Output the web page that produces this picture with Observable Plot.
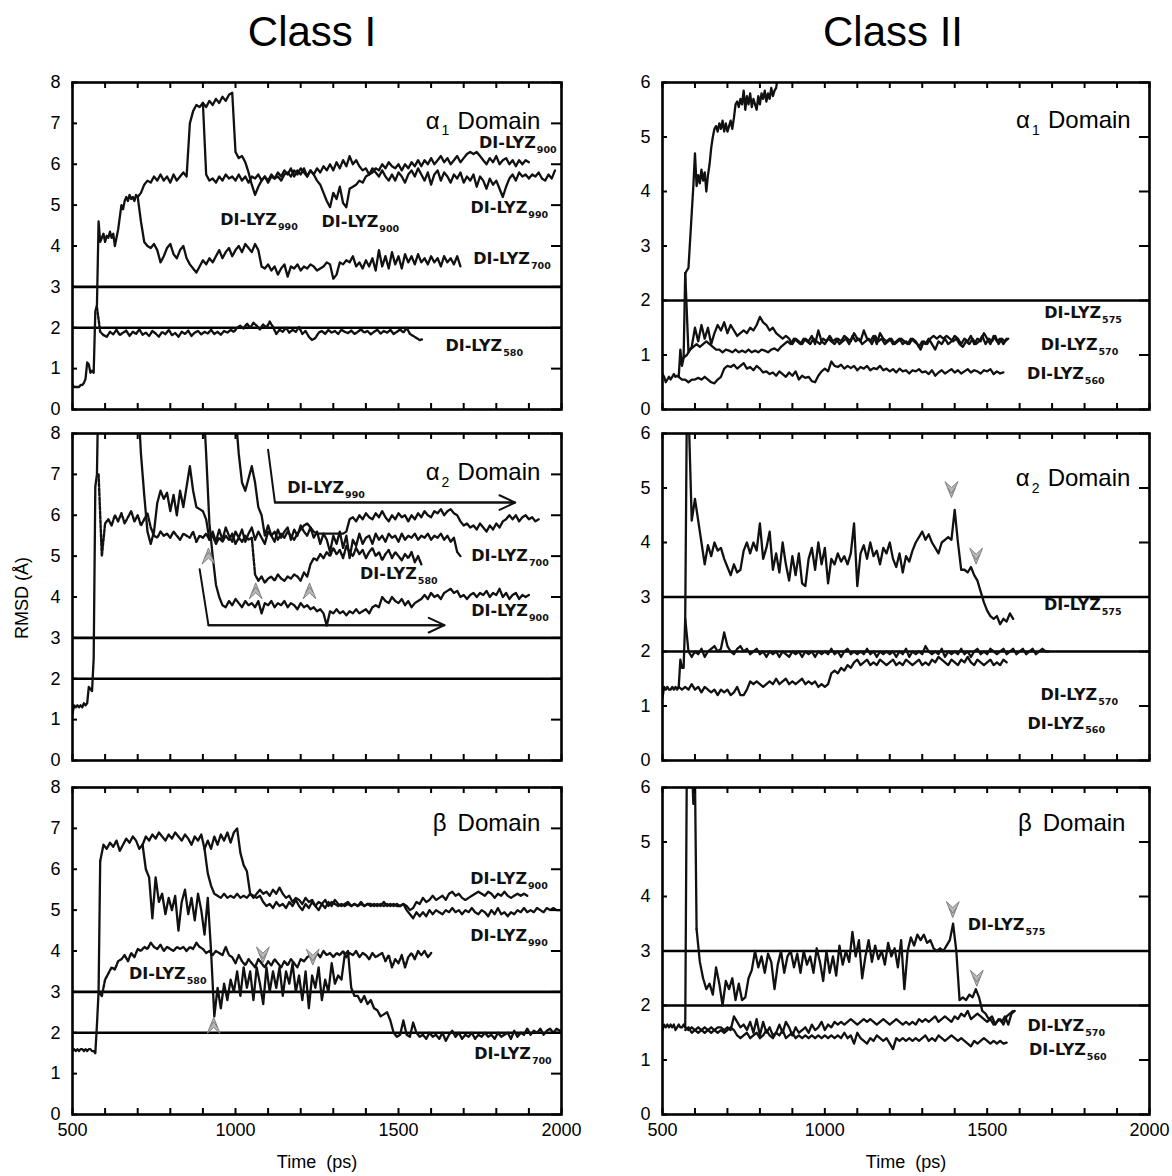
<!DOCTYPE html>
<html><head><meta charset="utf-8">
<script src="https://cdn.jsdelivr.net/npm/d3@7"></script>
<script src="https://cdn.jsdelivr.net/npm/@observablehq/plot@0.6"></script>
<style>
body{margin:0;background:#fff;}
#wrap{position:relative;width:1172px;height:1176px;overflow:hidden;background:#fff;font-family:'Liberation Sans',Arial,Helvetica,sans-serif;color:#000;}
#wrap svg{position:absolute;overflow:visible;}
.title{position:absolute;font-size:42px;line-height:42px;text-align:center;width:300px;top:11px;}
.ylab{position:absolute;font-size:18px;line-height:20px;width:200px;text-align:center;transform:rotate(-90deg);}
</style></head><body><div id="wrap"></div>
<script>
// ---------- axes ----------
const X_MINOR = [500,600,700,800,900,1000,1100,1200,1300,1400,1500,1600,1700,1800,1900,2000];
const X_LABELS = [500,1000,1500,2000];
const Y_TICKS_I = [0,1,2,3,4,5,6,7,8];
const Y_TICKS_II = [0,1,2,3,4,5,6];
const COLUMN_TITLES = ["Class I","Class II"];

// ---------- Class I, alpha1 ----------
const c1a_start = [0.6,0.55,0.55,0.55,0.55,0.6,0.6,0.65,0.75,1.15,1.1,0.9,0.95,0.9,2.4,2.55];
const c1a_580 = [2.5,1.9,1.82,1.78,1.9,1.84,1.95,1.82,1.88,1.93,1.8,1.9,1.85,1.96,1.83,1.88,1.8,1.92,1.86,1.78,1.9,1.84,1.95,1.82,1.87,1.78,1.9,1.85,1.93,1.8,1.88,1.92,1.84,1.9,1.86,1.95,1.85,1.9,1.83,1.92,1.88,1.95,1.9,2.0,2.05,1.98,2.1,2.0,2.12,2.05,1.96,2.08,2.0,2.15,2.02,1.85,1.95,1.9,2.0,1.88,1.95,1.9,2.02,1.85,1.92,1.78,1.7,1.75,1.88,1.92,1.85,1.95,1.88,1.92,1.85,1.95,1.9,1.87,1.93,1.85,1.9,1.96,1.88,1.92,1.84,1.9,1.95,1.86,1.92,1.88,1.95,1.85,1.9,1.96,1.88,2.0,1.85,1.8,1.75,1.7,1.72];
const c1a_hi = [2.55,4.6,4.1,4.2,4.3,4.1,4.25,4.2,4.35,4.2,4.3,4.0,4.2,4.4,4.7,5.0,4.9,5.1,5.2,5.1,5.25,5.15,5.2,5.1,5.25,5.2];
const c1a_700 = [5.2,4.6,4.1,4.0,3.95,4.05,3.9,3.6,3.75,3.95,4.05,3.8,3.7,3.9,4.0,3.7,3.55,3.45,3.35,3.5,3.65,3.55,3.7,3.6,3.75,3.9,3.7,3.85,3.95,3.75,3.9,4.0,3.85,4.05,3.95,3.85,4.05,3.9,3.5,3.45,3.55,3.4,3.5,3.3,3.45,3.55,3.25,3.5,3.45,3.55,3.4,3.5,3.45,3.55,3.5,3.4,3.45,3.5,3.6,3.55,3.2,3.3,3.6,3.55,3.65,3.6,3.75,3.5,3.6,3.45,3.65,3.5,3.7,3.4,3.9,3.5,3.75,3.45,3.85,3.55,3.75,3.45,3.8,3.6,3.75,3.55,3.8,3.6,3.7,3.55,3.75,3.6,3.7,3.5,3.75,3.6,3.7,3.55,3.75,3.5];
const c1a_mid = [5.2,5.3,5.5,5.6,5.55,5.7,5.6,5.75,5.6,5.7,5.55,5.75,5.6,5.7,5.8,5.7,7.0,7.3,7.45,7.4,7.5];
const c1a_900 = [7.5,5.75,5.6,5.65,5.55,5.7,5.6,5.75,5.65,5.7,5.6,5.75,5.6,5.7,5.55,5.7,5.65,5.75,5.6,5.7,5.55,5.7,5.65,5.8,5.7,5.85,5.75,5.9,5.7,5.85,5.75,5.9,5.7,5.85,5.75,5.6,5.5,5.3,5.1,4.95,5.3,5.15,5.45,5.05,4.95,5.4,5.45,5.5,5.6,5.55,5.7,5.75,5.8,5.9,5.85,6.0,5.9,6.05,5.95,5.9,6.0,5.85,6.0,5.9,6.05,5.95,6.1,5.95,6.1,6.0,6.15,6.0,6.1,6.2,6.05,6.15,6.0,6.1,6.2,6.05,6.15,6.25,6.3,6.25,6.3,6.2,6.1,6.0,6.15,6.05,6.2,6.0,6.1,6.15,6.0,6.1,5.95,6.1,6.0,6.1,6.05];
const c1a_990 = [7.5,7.4,7.55,7.45,7.6,7.5,7.65,7.55,7.7,7.75,6.3,6.15,6.2,6.05,5.8,5.5,5.25,5.45,5.6,5.7,5.6,5.75,5.65,5.7,5.6,5.75,5.8,5.7,5.85,5.75,5.9,5.8,5.7,5.85,5.75,5.9,5.8,5.95,5.85,6.0,5.85,6.05,5.9,6.1,5.95,6.2,6.0,6.1,5.95,5.85,5.9,5.75,5.9,5.8,5.7,5.85,5.7,5.6,5.75,5.6,5.8,5.7,5.55,5.75,5.85,5.7,5.9,5.75,5.6,5.8,5.5,5.75,5.85,5.6,5.8,5.7,5.55,5.75,5.65,5.8,5.55,5.7,5.6,5.75,5.45,5.7,5.6,5.4,5.65,5.5,5.6,5.4,5.2,5.45,5.65,5.75,5.6,5.8,5.7,5.75,5.65,5.75,5.7,5.8,5.65,5.6,5.75,5.65,5.85];

// ---------- Class I, alpha2 ----------
const c1b_start = [1.15,1.35,1.3,1.35,1.3,1.35,1.3,1.4,1.35,1.4,1.8,1.75,1.7,2.5,6.7,7.0,9.5];
const c1b_580 = [7.0,5.0,5.8,5.9,5.75,6.0,5.85,6.05,5.8,5.95,6.1,5.85,6.0,5.75,5.9,6.05,5.7,5.5,5.45,5.6,5.5,5.55,5.45,5.6,5.5,5.4,5.55,5.5,5.45,5.6,5.35,5.5,5.45,5.55,5.4,5.5,5.3,5.45,5.35,5.5,5.4,5.55,5.3,5.45,5.35,5.5,5.4,5.45,4.55,4.4,4.5,4.35,4.45,4.5,4.4,4.55,4.45,4.4,4.5,4.45,4.55,4.5,4.4,4.6,4.5,4.8,4.95,4.9,5.05,4.95,5.1,5.0,5.2,5.05,5.15,4.95,5.25,5.1,5.0,5.2,5.05,5.15,4.95,5.1,5.2,5.0,5.1,4.9,5.05,5.15,4.95,5.1,5.0,4.9,5.05,4.95,5.1,4.85,5.0,4.8];
const c1b_700 = [9.0,7.5,6.5,5.6,5.3,5.6,6.3,6.6,6.4,6.55,6.1,6.5,6.0,6.6,6.2,6.7,7.2,6.6,6.2,6.15,6.1,5.9,5.4,5.6,5.35,5.65,5.4,5.7,5.5,5.35,5.6,5.45,5.65,5.35,5.55,5.7,5.4,5.6,5.45,5.3,5.6,5.5,5.35,5.65,5.45,5.6,5.7,5.4,5.65,5.5,5.75,5.6,5.5,5.7,5.45,5.6,5.3,5.55,5.4,5.1,5.5,5.3,5.6,5.2,5.5,4.95,5.4,5.25,5.55,5.3,5.45,5.5,5.3,5.55,5.4,5.5,5.35,5.55,5.45,5.5,5.35,5.55,5.4,5.5,5.45,5.55,5.4,5.5,5.45,5.55,5.4,5.5,5.45,5.55,5.4,5.5,5.35,5.45,5.1,5.0];
const c1b_900 = [9.0,7.5,5.8,5.0,4.3,4.0,3.8,3.75,3.9,3.8,3.95,3.85,3.75,3.9,3.8,3.85,3.75,3.9,3.6,3.85,3.8,3.9,3.75,3.85,3.8,3.9,3.75,3.85,3.8,3.7,3.85,3.75,3.8,3.7,3.75,3.65,3.7,3.6,3.3,3.65,3.6,3.7,3.6,3.65,3.55,3.65,3.6,3.7,3.6,3.65,3.7,3.6,3.75,3.8,3.75,4.0,3.9,3.85,4.0,3.9,3.85,3.95,3.8,3.9,3.75,3.85,3.9,3.95,4.05,3.95,4.1,4.0,4.05,3.95,4.1,4.15,4.2,4.1,4.15,4.0,4.05,3.95,4.05,4.1,4.0,4.1,4.05,4.15,4.0,4.1,4.05,4.2,4.0,4.1,3.95,4.05,4.1,3.95,4.05,4.0,4.05];
const c1b_990 = [9.0,8.5,7.5,6.8,6.6,6.9,7.2,6.8,6.2,6.0,5.5,5.75,5.5,5.6,5.4,5.55,5.45,5.6,5.5,5.4,5.55,5.65,5.75,5.8,5.7,5.6,5.55,5.55,5.55,5.55,5.55,5.55,5.55,5.55,5.55,5.6,5.9,5.95,5.85,6.0,5.9,6.05,5.95,5.9,6.05,5.95,6.1,5.95,5.85,6.0,5.9,6.05,5.95,6.0,5.85,6.0,5.9,6.05,5.95,6.1,6.0,5.95,6.1,6.05,6.15,6.0,6.1,6.15,6.05,6.0,5.85,5.75,5.8,5.7,5.75,5.65,5.8,5.7,5.6,5.75,5.65,5.8,5.7,5.85,5.9,6.0,5.9,6.0,5.85,5.95,6.0,5.9,5.95,5.85,5.9];
const c1b_arrow990 = [[1100,7.6],[1121,6.31],[1858,6.31]];
const c1b_arrow900 = [[890,4.68],[917,3.31],[1641,3.31]];

// ---------- Class I, beta ----------
const c1c_start = [1.55,1.6,1.55,1.6,1.55,1.6,1.6,1.55,1.6,1.55,1.6,1.6,1.55,1.55,1.5,2.2,3.0,6.2];
const c1c_580 = [3.0,2.9,3.3,3.45,3.6,3.55,3.75,3.8,3.9,3.75,3.95,3.85,4.05,4.0,4.1,4.05,4.2,4.1,4.05,4.15,4.0,4.1,4.05,4.0,4.1,4.05,4.1,4.0,4.1,4.05,4.2,4.1,4.05,3.95,4.0,3.9,4.0,3.95,3.9,4.1,3.9,3.85,3.7,3.9,3.75,3.65,3.8,3.7,3.6,3.8,3.7,3.6,3.75,3.65,3.8,3.7,3.6,3.75,3.65,3.8,3.7,3.6,3.8,3.75,3.85,3.9,3.8,3.95,3.85,4.0,3.9,3.95,3.85,3.95,3.9,4.0,3.85,3.95,3.9,4.0,3.85,3.95,3.9,3.8,3.95,3.85,3.9,3.95,3.75,3.9,3.6,3.8,3.7,3.9,3.6,3.85,3.95,3.8,4.0,3.9,4.0,3.85,3.95];
const c1c_hi = [6.2,6.6,6.5,6.65,6.55,6.7,6.45,6.6,6.75,6.65,6.8,6.7,6.5,6.6];
const c1c_700 = [6.6,6.0,5.8,4.8,5.8,5.2,5.4,4.9,5.3,5.0,5.35,4.5,5.2,5.5,4.9,5.3,4.75,5.4,5.0,4.4,5.3,4.0,2.4,3.1,2.6,3.2,2.8,3.3,3.0,3.5,2.9,3.6,3.1,3.5,2.8,3.6,3.2,2.7,3.6,3.0,3.5,3.1,3.6,2.9,3.5,3.2,3.7,3.0,3.4,2.8,3.5,2.6,3.4,3.1,3.6,2.8,3.3,3.0,3.7,3.2,3.4,3.3,3.9,4.0,3.1,2.9,2.9,2.75,2.9,2.7,2.8,2.6,2.55,2.4,2.45,2.5,2.3,2.0,1.9,1.95,2.3,1.95,1.9,2.25,2.0,1.9,1.95,1.85,2.0,1.9,1.95,1.85,2.0,1.8,1.95,2.05,1.9,2.0,1.85,1.95,1.9,2.0,1.85,1.95,1.9,2.0,1.9,1.95,1.85,2.0,1.9,1.95,2.0,1.85,2.05,1.9,2.0,1.95,2.1,1.95,2.05,2.0,2.1,1.95,2.05,2.1,2.0,2.1,2.05];
const c1c_mid = [6.6,6.8,6.7,6.85,6.75,6.9,6.8,6.7,6.85,6.75,6.9,6.8,6.7,6.85,6.75,6.6,6.8,6.7,6.85,6.5];
const c1c_900 = [6.5,5.9,5.6,5.4,5.35,5.3,5.4,5.3,5.35,5.3,5.4,5.3,5.35,5.3,5.4,5.3,5.4,5.5,5.4,5.45,5.35,5.5,5.4,5.55,5.4,5.3,5.35,5.2,5.3,5.25,5.15,5.3,5.2,5.25,5.1,5.2,5.15,5.25,5.1,5.2,5.15,5.1,5.15,5.1,5.15,5.1,5.15,5.1,5.15,5.1,5.15,5.1,5.15,5.1,5.15,5.1,5.15,5.1,5.15,5.1,5.1,5.15,5.1,5.0,5.05,5.2,5.15,5.3,5.2,5.25,5.35,5.25,5.3,5.35,5.25,5.4,5.45,5.35,5.4,5.3,5.25,5.3,5.35,5.4,5.45,5.4,5.35,5.45,5.4,5.3,5.4,5.35,5.45,5.35,5.3,5.35,5.4,5.35,5.4,5.35];
const c1c_990 = [6.5,6.7,6.5,6.8,6.6,6.85,6.7,6.9,6.65,6.9,7.0,6.4,6.1,5.95,5.4,5.35,5.3,5.35,5.2,5.1,5.15,5.05,5.2,5.1,5.15,5.05,5.2,5.1,5.25,5.1,5.0,5.15,5.05,5.2,5.1,5.0,5.15,5.05,5.2,5.1,5.25,5.15,5.1,5.15,5.2,5.1,5.15,5.1,5.2,5.1,5.15,5.15,5.1,5.15,5.1,5.2,5.1,5.15,5.1,5.15,5.1,5.15,5.0,4.9,4.8,4.95,4.85,4.95,4.85,5.0,4.9,5.0,4.95,4.9,5.0,4.95,5.05,4.95,5.0,4.9,5.0,4.95,5.05,4.95,4.9,5.0,4.95,4.85,5.0,4.9,5.05,4.9,4.95,4.85,4.95,4.9,5.0,4.95,5.05,4.95,5.0,4.95,5.05,5.0,4.95,5.05,5.0,5.05,5.0,5.0];

// ---------- Class II, alpha1 ----------
const c2a_start = [0.65,0.6,0.5,0.55,0.6,0.55,0.6,0.65,0.6,0.62,0.6];
const c2a_hi = [0.6,1.1,0.8,0.95,2.5];
const c2a_up = [2.5,2.55,2.6,3.1,3.6,4.1,4.7,4.1,4.3,4.15,4.4,4.2,4.35,4.0,4.3,4.5,4.8,5.0,5.15,5.2,5.1,5.25,5.15,5.3,5.1,5.25,5.1,5.2,5.3,5.15,5.35,5.6,5.65,5.55,5.7,5.6,5.85,5.5,5.75,5.6,5.8,5.55,5.7,5.6,5.5,5.75,5.6,5.8,5.7,5.85,5.65,5.8,5.7,5.9,5.75,5.85,5.9,6.1,6.3];
const c2a_570 = [2.5,1.05,1.15,1.5,1.25,1.55,1.3,1.5,1.2,1.4,1.55,1.45,1.6,1.4,1.55,1.45,1.35,1.4,1.45,1.4,1.5,1.45,1.55,1.7,1.6,1.55,1.45,1.5,1.4,1.35,1.3,1.35,1.3,1.2,1.3,1.25,1.2,1.3,1.25,1.35,1.2,1.45,1.25,1.2,1.3,1.25,1.2,1.3,1.25,1.35,1.3,1.25,1.4,1.3,1.25,1.45,1.3,1.25,1.35,1.2,1.4,1.3,1.25,1.3,1.2,1.25,1.3,1.2,1.25,1.2,1.3,1.25,1.15,1.25,1.2,1.3,1.2,1.1,1.25,1.2,1.3,1.2,1.25,1.35,1.3,1.2,1.3,1.25,1.35,1.2,1.3,1.25,1.4,1.3,1.2,1.35,1.25,1.3,1.2,1.3];
const c2a_b = [0.95,1.0,1.1,1.15,1.2,1.15,1.2,1.25,1.2,1.15,1.1,1.1,1.05,1.1,1.08,1.05,1.1,1.05,1.08,1.05,1.1,1.05,1.08,1.05,1.1,1.08,1.05,1.1,1.12,1.08,1.15,1.2,1.25,1.2,1.3,1.25,1.2,1.3,1.25,1.2,1.3,1.25,1.2,1.3,1.25,1.35,1.25,1.3,1.2,1.25,1.3,1.2,1.35,1.25,1.3,1.2,1.25,1.3,1.2,1.35,1.25,1.3,1.2,1.25,1.3,1.2,1.25,1.3,1.25,1.2,1.3,1.25,1.2,1.1,1.25,1.2,1.3,1.35,1.3,1.35,1.3,1.35,1.3,1.25,1.3,1.2,1.15,1.25,1.2,1.3,1.2,1.25,1.35,1.2,1.3,1.25,1.35,1.2,1.3,1.25,1.3];
const c2a_560 = [0.6,0.55,0.55,0.5,0.55,0.55,0.58,0.55,0.6,0.55,0.5,0.48,0.55,0.6,0.75,0.8,0.78,0.82,0.75,0.8,0.85,0.75,0.78,0.72,0.8,0.75,0.68,0.7,0.65,0.68,0.62,0.7,0.65,0.6,0.68,0.62,0.7,0.55,0.62,0.58,0.6,0.52,0.5,0.62,0.7,0.75,0.7,0.88,0.8,0.78,0.82,0.75,0.8,0.76,0.8,0.72,0.78,0.75,0.8,0.72,0.76,0.74,0.8,0.72,0.75,0.7,0.74,0.68,0.75,0.7,0.72,0.66,0.72,0.7,0.74,0.68,0.7,0.65,0.72,0.62,0.68,0.72,0.66,0.7,0.74,0.68,0.72,0.66,0.7,0.74,0.68,0.72,0.7,0.66,0.72,0.7,0.74,0.65,0.7,0.66,0.68];

// ---------- Class II, alpha2 ----------
const c2b_start = [1.15,1.35,1.3,1.35,1.3,1.3,1.35,1.3,1.35,1.3,1.35];
const c2b_hi = [1.35,1.85,1.7,1.7,2.6,6.5];
const c2b_575 = [6.5,4.4,4.8,4.4,4.0,3.6,3.95,3.75,4.0,3.85,3.9,3.7,3.55,3.4,3.6,3.45,3.5,3.85,4.0,3.8,4.0,3.85,4.35,3.7,3.9,4.2,3.5,3.8,3.45,4.0,3.6,3.3,3.75,3.4,3.8,3.25,3.2,3.7,3.9,3.5,4.0,3.6,3.9,3.25,3.7,3.6,3.8,3.65,3.75,3.6,3.8,4.35,3.2,3.8,3.95,3.7,4.0,3.75,3.85,3.6,3.9,3.8,4.0,3.7,3.55,3.8,3.45,3.75,3.65,3.85,4.0,4.1,4.2,4.05,4.15,4.0,3.9,3.8,4.0,4.05,4.1,4.05,4.6,4.0,3.5,3.5,3.45,3.55,3.4,3.3,3.1,2.9,2.75,2.65,2.6,2.65,2.5,2.6,2.55,2.7,2.6];
const c2b_570 = [2.6,2.0,1.9,2.0,1.95,2.05,1.9,2.0,2.05,2.1,2.0,2.05,2.35,2.1,2.0,1.95,2.05,2.1,2.0,2.05,1.95,2.0,2.05,1.95,2.0,1.9,2.0,1.95,2.0,1.9,2.0,1.95,1.9,2.0,1.95,2.0,1.9,2.0,1.95,2.0,1.9,2.0,1.95,2.0,1.95,2.05,1.95,2.0,1.9,2.0,2.05,1.95,2.0,1.95,2.0,1.95,2.05,1.95,2.0,1.9,2.0,1.95,2.0,1.95,2.0,1.9,2.0,1.95,2.05,1.9,2.0,1.95,2.0,1.95,2.1,2.0,1.95,2.0,1.95,2.05,1.9,2.0,1.95,2.0,1.95,2.05,1.95,2.0,1.9,2.0,2.05,1.95,2.0,1.95,2.05,2.0,1.95,2.0,2.05,1.95,2.0,2.05,1.95,2.0,2.05,1.95,2.0,2.05,1.95,2.0,2.05,2.0,2.0];
const c2b_560 = [1.35,1.3,1.35,1.3,1.4,1.3,1.35,1.25,1.35,1.3,1.25,1.3,1.2,1.3,1.25,1.3,1.2,1.25,1.35,1.2,1.2,1.3,1.45,1.4,1.45,1.4,1.35,1.4,1.45,1.4,1.5,1.4,1.45,1.5,1.4,1.45,1.4,1.45,1.5,1.4,1.45,1.4,1.45,1.35,1.4,1.35,1.4,1.6,1.65,1.6,1.7,1.65,1.75,1.7,1.8,1.85,1.75,1.8,1.85,1.75,1.8,1.75,1.85,1.8,1.75,1.8,1.85,1.75,1.8,1.75,1.85,1.8,1.75,1.8,1.85,1.75,1.8,1.75,1.85,1.8,1.9,1.85,1.8,1.75,1.85,1.8,1.75,1.85,1.8,1.9,1.8,1.75,1.85,1.8,1.75,1.8,1.85,1.75,1.8,1.75,1.85,1.8];

// ---------- Class II, beta ----------
const c2c_start = [1.55,1.65,1.6,1.65,1.6,1.65,1.6,1.65,1.55,1.6,1.65,1.6,1.6,1.65,1.6];
const c2c_spike = [1.6,6.5,6.5,6.4,6.5,5.7,6.2,3.4];
const c2c_575 = [3.4,2.8,2.5,2.3,2.4,2.2,2.7,2.4,2.0,2.45,2.3,2.5,2.1,2.4,2.1,2.15,2.5,2.65,3.0,2.7,2.9,2.6,2.95,2.8,2.3,2.75,3.0,2.6,2.9,3.0,2.7,2.95,2.6,3.0,2.75,2.9,2.6,3.05,2.8,2.45,3.0,2.6,2.9,2.55,3.1,2.75,3.0,2.8,3.35,2.9,3.2,2.5,2.9,3.2,2.8,3.1,2.85,3.0,2.75,3.15,2.9,3.05,2.7,3.2,2.3,3.0,3.25,3.1,3.3,3.2,3.3,3.15,3.2,3.05,3.0,3.05,3.0,3.1,3.2,3.5,3.0,2.1,2.15,2.1,2.2,2.15,2.3,2.15,1.9,1.85,1.75,1.8,1.65,1.75,1.7,1.8,1.65,1.85,1.9];
const c2c_570 = [1.6,1.55,1.6,1.55,1.6,1.55,1.6,1.55,1.6,1.55,1.6,1.6,1.55,1.6,1.55,1.8,1.7,1.6,1.65,1.55,1.7,1.5,1.75,1.45,1.7,1.5,1.6,1.45,1.5,1.65,1.5,1.7,1.6,1.45,1.6,1.5,1.55,1.6,1.5,1.65,1.55,1.6,1.7,1.55,1.65,1.6,1.7,1.65,1.7,1.65,1.7,1.75,1.7,1.65,1.7,1.75,1.7,1.75,1.7,1.65,1.7,1.75,1.7,1.65,1.7,1.75,1.7,1.65,1.7,1.65,1.7,1.65,1.75,1.7,1.75,1.7,1.75,1.8,1.7,1.75,1.8,1.75,1.7,1.8,1.75,1.85,1.8,1.9,1.75,1.8,1.85,1.8,1.75,1.7,1.75,1.65,1.7,1.75,1.65,1.8,1.85,1.9];
const c2c_560 = [1.55,1.6,1.5,1.55,1.5,1.55,1.5,1.55,1.5,1.55,1.5,1.55,1.5,1.55,1.6,1.55,1.45,1.4,1.45,1.5,1.4,1.45,1.5,1.4,1.45,1.55,1.45,1.4,1.5,1.45,1.55,1.4,1.45,1.5,1.4,1.45,1.4,1.45,1.4,1.45,1.4,1.45,1.4,1.45,1.4,1.45,1.4,1.45,1.4,1.5,1.4,1.45,1.3,1.5,1.4,1.35,1.3,1.4,1.35,1.45,1.4,1.35,1.4,1.3,1.2,1.4,1.35,1.4,1.35,1.4,1.35,1.4,1.35,1.4,1.45,1.35,1.4,1.35,1.45,1.4,1.35,1.4,1.45,1.4,1.35,1.4,1.35,1.3,1.25,1.35,1.3,1.35,1.4,1.35,1.3,1.35,1.3,1.35,1.3,1.32];

// ---------- helpers ----------
function seg(t0, dt, vals){ return vals.map((v,i)=>({t:t0+i*dt, v})); }
const cv = document.createElement("canvas").getContext("2d");
function textW(s, font){ cv.font = font; return cv.measureText(s).width; }
const LYZ_FONT = "DejaVu Sans";
const wLYZ = textW("DI-LYZ", `bold 16px '${LYZ_FONT}'`);
const wDomain = textW("Domain", "24px 'Liberation Sans'");

const chevUp = {draw(c, size){ const r = Math.sqrt(size/Math.PI); c.moveTo(-r*0.8, r); c.lineTo(0,-r); c.lineTo(r*0.8, r); c.lineTo(0, r*0.25); c.closePath(); c.moveTo(-r*0.45, r*0.2); c.lineTo(0,-r*0.45); c.lineTo(r*0.45, r*0.2);}};
const chevDown = {draw(c, size){ const r = Math.sqrt(size/Math.PI); c.moveTo(-r*0.8, -r); c.lineTo(0,r); c.lineTo(r*0.8, -r); c.lineTo(0, -r*0.25); c.closePath(); c.moveTo(-r*0.45, -r*0.2); c.lineTo(0,r*0.45); c.lineTo(r*0.45, -r*0.2);}};

const FH = 327;
function makePanel(p){
  const mTop = 12, mBottom = p.bottom ? 62 : 12;
  const W = p.width - p.mL - p.mR;
  const marks = [];
  marks.push(Plot.ruleY(p.refs, {stroke:"#000", strokeWidth:2.6}));
  for (const s of p.series){
    marks.push(Plot.line(seg(s.t0, s.dt, s.vals), {x:"t", y:"v", stroke:"#111", strokeWidth: s.dash ? 2.4 : 2.3, strokeDasharray: s.dash ? "3,1.6" : null, strokeLinejoin:"round", clip:true}));
  }
  for (const a of (p.arrows||[])){
    const pts = a.map(([t,v])=>({t,v}));
    marks.push(Plot.line(pts, {x:"t", y:"v", stroke:"#111", strokeWidth:2}));
    const n = a.length;
    marks.push(Plot.arrow([{x1:a[n-2][0], y1:a[n-2][1], x2:a[n-1][0], y2:a[n-1][1]}], {x1:"x1", y1:"y1", x2:"x2", y2:"y2", stroke:"#111", strokeWidth:2, headLength:13, headAngle:50}));
  }
  marks.push(Plot.frame({stroke:"#000", strokeWidth:2.6}));
  marks.push(Plot.tickX(X_MINOR, {x:d=>d, insetTop: FH-6, stroke:"#000", strokeWidth:2}));
  marks.push(Plot.tickX(X_MINOR, {x:d=>d, insetBottom: FH-6, stroke:"#000", strokeWidth:2}));
  marks.push(Plot.tickY(p.yTicks, {y:d=>d, insetRight: W-5, stroke:"#000", strokeWidth:2}));
  marks.push(Plot.tickY(p.yTicks, {y:d=>d, insetLeft: W-10, stroke:"#000", strokeWidth:2}));
  marks.push(Plot.axisY(p.yTicks, {tickSize:0, tickPadding:12, fontSize:18, label:null, tickFormat:d=>String(d)}));
  if (p.bottom){
    marks.push(Plot.axisX(X_LABELS, {tickSize:0, tickPadding:9, fontSize:18, label:null, tickFormat:d=>String(d)}));
    marks.push(Plot.text(["Time\u00a0\u00a0(ps)"], {frameAnchor:"bottom", text:d=>d, dy:53, fontSize:18}));
  }
  // DI-LYZ labels
  marks.push(Plot.text(p.labels, {x:"t", y:"v", text:()=> "DI-LYZ", textAnchor:"start", lineAnchor:"middle", fontWeight:"bold", fontSize:16, fontFamily:LYZ_FONT, fill:"#111"}));
  marks.push(Plot.text(p.labels, {x:"t", y:"v", text:"sub", textAnchor:"start", lineAnchor:"middle", dx: wLYZ+1, dy:7, fontWeight:"bold", fontSize:9.5, fontFamily:LYZ_FONT, fill:"#111"}));
  // Domain label
  const d = p.domain;
  marks.push(Plot.text([d], {x:"t", y:"v", text:()=>"Domain", textAnchor:"end", lineAnchor:"middle", fontSize:24}));
  marks.push(Plot.text([d], {x:"t", y:"v", text:"greek", textAnchor:"end", lineAnchor:"middle", dx: -(wDomain + (d.sub ? 18 : 11)), fontSize:24}));
  if (d.sub) marks.push(Plot.text([d], {x:"t", y:"v", text:"sub", textAnchor:"start", lineAnchor:"middle", dx: -(wDomain + 16), dy:10, fontSize:14}));
  if (p.up) marks.push(Plot.dot(p.up.map(([t,v])=>({t,v})), {x:"t", y:"v", symbol: chevUp, r:8, fill:"#b8b8b8", stroke:"#777", strokeWidth:0.9}));
  if (p.down) marks.push(Plot.dot(p.down.map(([t,v])=>({t,v})), {x:"t", y:"v", symbol: chevDown, r:8, fill:"#b8b8b8", stroke:"#777", strokeWidth:0.9}));

  const svg = Plot.plot({
    width: p.width, height: FH + mTop + mBottom,
    marginLeft: p.mL, marginRight: p.mR, marginTop: mTop, marginBottom: mBottom,
    x: {domain:[500,2000], ...(p.bottom ? {} : {axis:null})},
    y: {domain:[0, p.ymax]},
    style: {fontFamily:"'Liberation Sans', Arial, Helvetica, sans-serif", fontSize:"18px", color:"#000", background:"transparent", overflow:"visible"},
    marks
  });
  svg.style.left = p.left + "px";
  svg.style.top = (p.top - mTop) + "px";
  document.getElementById("wrap").appendChild(svg);
}

const L = {left:0, width:600, mL:72, mR:39, ymax:8, yTicks:Y_TICKS_I, refs:[2,3]};
const R = {left:600, width:572, mL:62, mR:23, ymax:6, yTicks:Y_TICKS_II};

makePanel({...L, top:82,
  series:[
    {t0:500, dt:5, vals:c1a_start}, {t0:575, dt:10, vals:c1a_580, dash:true},
    {t0:575, dt:5, vals:c1a_hi}, {t0:700, dt:10, vals:c1a_700}, {t0:700, dt:10, vals:c1a_mid},
    {t0:900, dt:10, vals:c1a_900}, {t0:900, dt:10, vals:c1a_990}],
  labels:[{t:1747,v:6.53,sub:"900"},{t:953,v:4.63,sub:"990"},{t:1264,v:4.59,sub:"900"},{t:1721,v:4.94,sub:"990"},{t:1729,v:3.69,sub:"700"},{t:1644,v:1.55,sub:"580"}],
  domain:{t:1935, v:7.06, greek:"α", sub:"1"}});

makePanel({...L, top:433,
  series:[
    {t0:500, dt:5, vals:c1b_start}, {t0:580, dt:10, vals:c1b_580, dash:true},
    {t0:700, dt:10, vals:c1b_700}, {t0:900, dt:10, vals:c1b_900}, {t0:990, dt:10, vals:c1b_990}],
  arrows:[c1b_arrow990, c1b_arrow900],
  labels:[{t:1159,v:6.67,sub:"990"},{t:1723,v:5.0,sub:"700"},{t:1382,v:4.56,sub:"580"},{t:1723,v:3.66,sub:"900"}],
  domain:{t:1935, v:7.04, greek:"α", sub:"2"},
  up:[[917,5.0],[1062,4.15],[1227,4.15]]});

makePanel({...L, top:787, bottom:true,
  series:[
    {t0:500, dt:5, vals:c1c_start}, {t0:580, dt:10, vals:c1c_580, dash:true},
    {t0:585, dt:10, vals:c1c_hi}, {t0:715, dt:10, vals:c1c_700}, {t0:715, dt:10, vals:c1c_mid},
    {t0:905, dt:10, vals:c1c_900}, {t0:905, dt:10, vals:c1c_990}],
  labels:[{t:1720,v:5.77,sub:"900"},{t:1720,v:4.38,sub:"990"},{t:673,v:3.43,sub:"580"},{t:1732,v:1.49,sub:"700"}],
  domain:{t:1935, v:7.12, greek:"β"},
  up:[[933,2.18]], down:[[1084,3.9],[1237,3.85]]});

makePanel({...R, top:82, refs:[2],
  series:[
    {t0:500, dt:5, vals:c2a_start}, {t0:550, dt:5, vals:c2a_hi}, {t0:570, dt:5, vals:c2a_up},
    {t0:570, dt:10, vals:c2a_570}, {t0:565, dt:10, vals:c2a_b}, {t0:550, dt:10, vals:c2a_560}],
  labels:[{t:1676,v:1.77,sub:"575"},{t:1665,v:1.18,sub:"570"},{t:1623,v:0.66,sub:"560"}],
  domain:{t:1942, v:5.3, greek:"α", sub:"1"}});

makePanel({...R, top:433, refs:[2,3],
  series:[
    {t0:500, dt:5, vals:c2b_start}, {t0:550, dt:5, vals:c2b_hi}, {t0:580, dt:10, vals:c2b_575},
    {t0:570, dt:10, vals:c2b_570}, {t0:550, dt:10, vals:c2b_560}],
  labels:[{t:1675,v:2.86,sub:"575"},{t:1664,v:1.2,sub:"570"},{t:1624,v:0.68,sub:"560"}],
  domain:{t:1941, v:5.17, greek:"α", sub:"2"},
  down:[[1390,4.97],[1466,3.75]]});

makePanel({...R, top:787, refs:[2,3], bottom:true,
  series:[
    {t0:500, dt:5, vals:c2c_start}, {t0:570, dt:5, vals:c2c_spike}, {t0:605, dt:10, vals:c2c_575},
    {t0:570, dt:10, vals:c2c_570}, {t0:570, dt:10, vals:c2c_560}],
  labels:[{t:1440,v:3.48,sub:"575"},{t:1624,v:1.62,sub:"570"},{t:1629,v:1.19,sub:"560"}],
  domain:{t:1926, v:5.35, greek:"β"},
  down:[[1394,3.76],[1468,2.5]]});

// titles and shared y label
const wrap = document.getElementById("wrap");
[[COLUMN_TITLES[0], 312],[COLUMN_TITLES[1], 893]].forEach(([txt, cx])=>{
  const d = document.createElement("div"); d.className = "title"; d.textContent = txt;
  d.style.left = (cx - 150) + "px"; wrap.appendChild(d);
});
const yl = document.createElement("div"); yl.className = "ylab"; yl.textContent = "RMSD (Å)";
yl.style.left = (22 - 100) + "px"; yl.style.top = (598 - 10) + "px"; wrap.appendChild(yl);
</script></body></html>
